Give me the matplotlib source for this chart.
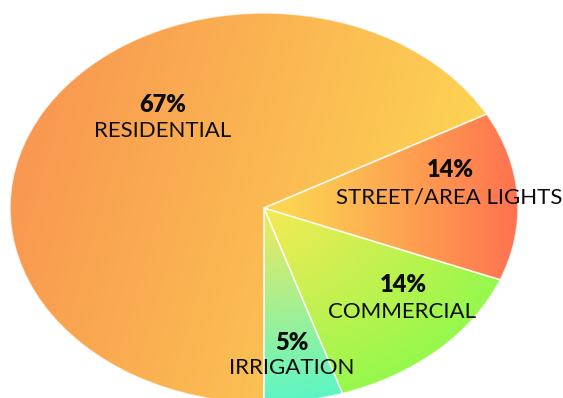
import numpy as np
import matplotlib
matplotlib.use("Agg")
from matplotlib import pyplot as plt
from matplotlib.colors import to_rgb

# data
categories = ["IRRIGATION", "COMMERCIAL", "STREET/AREA LIGHTS", "RESIDENTIAL"]
shares = [5, 14, 14, 67]
pct_labels = ["5%", "14%", "14%", "67%"]

# gradient end colours per slice (inner / outer)
grad_start = ["#F4E85A", "#F6EA55", "#FDD452", "#F99850"]
grad_end = ["#5CF6C6", "#96F84C", "#FF7250", "#FDD654"]

W, H = 563, 398
CX, CY, RX, RY = 264, 208, 254, 195   # pie centre/radii in pixels


def px(x, y):
    # pixel position -> data coords of the pie axes
    return (x - CX) / RX, (CY - y) / RY


fig = plt.figure(figsize=(W / 100, H / 100), dpi=100)
ax = fig.add_axes([0, 0, 1, 1])

wedges, _ = ax.pie(shares, startangle=-90, counterclock=True, radius=1,
                   wedgeprops=dict(facecolor="none", edgecolor=(1, 1, 1, 0.7),
                                   linewidth=1.1, zorder=5))

xmin, xmax = -CX / RX, (W - CX) / RX
ymin, ymax = -(H - CY) / RY, CY / RY
ax.set_aspect("auto")
ax.set_xlim(xmin, xmax)
ax.set_ylim(ymin, ymax)
ax.axis("off")

gx = np.linspace(xmin, xmax, W)
gy = np.linspace(ymin, ymax, H)
X, Y = np.meshgrid(gx, gy)
R = np.clip(np.sqrt(X ** 2 + Y ** 2), 0, 1)

for i, w in enumerate(wedges):
    c0 = np.array(to_rgb(grad_start[i]))
    c1 = np.array(to_rgb(grad_end[i]))
    if categories[i] == "RESIDENTIAL":
        t = np.clip((X + 1.0) / 1.85 - 0.12 * Y, 0, 1)
    elif categories[i] == "STREET/AREA LIGHTS":
        t = np.clip((X - 0.1) / 0.9, 0, 1)
    else:
        t = R
    rgb = c0[None, None, :] * (1 - t[..., None]) + c1[None, None, :] * t[..., None]
    im = ax.imshow(rgb, extent=(xmin, xmax, ymin, ymax), origin="lower",
                   aspect="auto", zorder=1, interpolation="bilinear")
    im.set_clip_path(w)

# label layout (pixel centres of the two text lines)
pct_pos = [(292, 343), (403, 285), (450, 170), (163, 105)]
name_pos = [(292, 368), (402, 312), (449, 198), (163, 131)]

for i in range(len(categories)):
    ax.text(*px(*pct_pos[i]), pct_labels[i], ha="center", va="center",
            fontsize=17, fontweight="heavy", family="Lato", color="#0d0d0d", zorder=10)
    ax.text(*px(*name_pos[i]), categories[i], ha="center", va="center",
            fontsize=16, family="Lato", color="#0d0d0d", zorder=10)

fig.savefig("out.png", dpi=100)
